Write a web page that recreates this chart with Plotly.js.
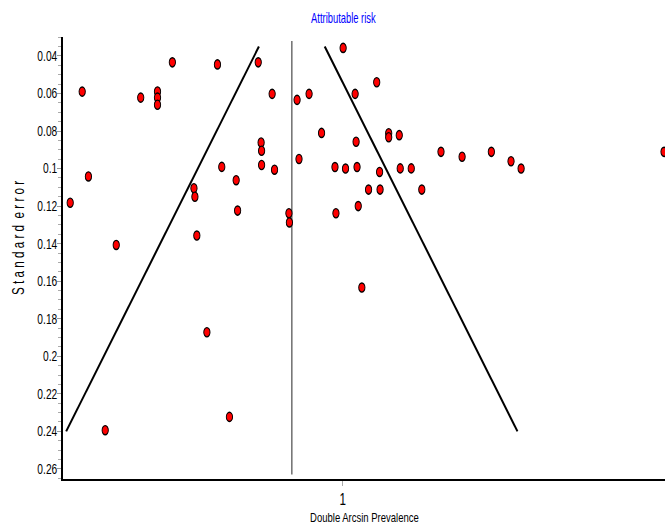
<!DOCTYPE html>
<html>
<head>
<meta charset="utf-8">
<script src="https://cdn.plot.ly/plotly-3.0.1.min.js"></script>
<style>
html,body{margin:0;padding:0;background:#fff;}
#chart{width:665px;height:525px;}
</style>
</head>
<body>
<div id="chart"></div>
<script>
// Study estimates (double arcsine prevalence) and their standard errors
const studyX = [0.457,0.470,0.432,0.528,0.579,0.614,0.614,0.614,0.645,0.739,
                0.690,0.692,0.696,0.748,0.778,0.781,0.717,0.764,0.505,0.824,
                0.853,0.830,0.831,0.831,0.858,0.888,0.889,0.905,0.909,0.930,
                0.956,1.001,1.026,1.028,0.984,1.006,1.030,0.986,1.0325,1.040,
                1.054,1.077,1.078,1.071,1.096,1.096,1.118,1.120,1.143,1.165,
                1.205,1.249,1.310,1.351,1.372,1.670];
const studySE = [0.0590,0.1042,0.1182,0.1407,0.0622,0.0589,0.0622,0.0660,0.0434,0.0445,
                 0.1105,0.1150,0.1357,0.0991,0.1062,0.1224,0.1872,0.2323,0.2394,0.0434,
                 0.0602,0.0861,0.0905,0.0981,0.1006,0.1238,0.1287,0.0634,0.0949,0.0602,
                 0.0810,0.0357,0.0602,0.0857,0.0992,0.1000,0.0992,0.1238,0.1200,0.1634,
                 0.1112,0.1018,0.1112,0.0540,0.0812,0.0833,0.0822,0.0999,0.0999,0.1112,
                 0.0911,0.0937,0.0911,0.0961,0.1000,0.0911];

// Pooled estimate and funnel limits
const pooled = 0.894;
const pooledSE = [0.032, 0.263];
const funnelSE = [0.035, 0.24];
const zCrit = 1.96;

// Axis ticks
const yTickVals = [0.04,0.06,0.08,0.1,0.12,0.14,0.16,0.18,0.2,0.22,0.24,0.26];
const yTickText = ["0.04","0.06","0.08","0.1","0.12","0.14","0.16","0.18","0.2","0.22","0.24","0.26"];
const xTickVals = [1];
const xTickText = ["1"];

const titleText = "Attributable risk";
const xTitleText = "Double Arcsin Prevalence";
const yTitleText = "S t a n d a r d  e r r o r";

const FONT = '"Liberation Sans", Arial, sans-serif';

const leftX = funnelSE.map(s => pooled - zCrit * s);
const rightX = funnelSE.map(s => pooled + zCrit * s);

const traces = [
  {x: leftX, y: funnelSE, mode: 'lines', line: {color: '#000', width: 2}, hoverinfo: 'skip'},
  {x: rightX, y: funnelSE, mode: 'lines', line: {color: '#000', width: 2}, hoverinfo: 'skip'},
  {x: [pooled, pooled], y: pooledSE, mode: 'lines', line: {color: '#777', width: 1.6}, hoverinfo: 'skip'},
  {x: studyX, y: studySE, mode: 'markers', type: 'scatter',
   marker: {symbol: 'circle', size: 8, color: '#ff0000', line: {color: '#000', width: 1.2}}}
];

const layout = {
  width: 665, height: 525,
  margin: {l: 63, r: 0, t: 37, b: 46},
  paper_bgcolor: '#fff', plot_bgcolor: '#fff',
  showlegend: false,
  font: {family: FONT, size: 13, color: '#000'},
  xaxis: {
    range: [0.417, 1.672], showgrid: false, zeroline: false,
    showline: true, linecolor: '#000', linewidth: 2,
    tickmode: 'array', tickvals: xTickVals, ticktext: xTickText,
    ticks: 'outside', ticklen: 5, tickcolor: '#aaa', tickwidth: 1,
    tickfont: {family: FONT, size: 16, color: '#000'}
  },
  yaxis: {
    range: [0.2654, 0.0299], showgrid: false, zeroline: false,
    showline: true, linecolor: '#000', linewidth: 2,
    tickmode: 'array', tickvals: yTickVals, ticktext: yTickText,
    ticks: 'outside', ticklen: 4, tickcolor: '#999', tickwidth: 1,
    minor: {tick0: 0, dtick: 0.005, ticks: 'outside', ticklen: 3, tickcolor: '#aaa', tickwidth: 1, showgrid: false},
    tickfont: {family: FONT, size: 14, color: '#000'}
  },
  annotations: [
    {text: titleText, xref: 'paper', yref: 'paper', x: 0.466, y: 1.044,
     xanchor: 'center', yanchor: 'middle', showarrow: false,
     font: {family: FONT, size: 14, color: '#0000ff'}},
    {text: xTitleText, xref: 'paper', yref: 'paper', x: 0.5, y: -0.088,
     xanchor: 'center', yanchor: 'middle', showarrow: false,
     font: {family: FONT, size: 13, color: '#000'}},
    {text: yTitleText, xref: 'paper', yref: 'paper', x: -0.0745, y: 0.545,
     xanchor: 'center', yanchor: 'middle', showarrow: false, textangle: -90,
     font: {family: FONT, size: 16, color: '#000'}}
  ]
};

function squeeze(el, s, dx) {
  const bb = el.getBBox();
  const anchor = el.getAttribute('text-anchor') || 'start';
  let ax = bb.x;
  if (anchor === 'middle') ax = bb.x + bb.width / 2;
  else if (anchor === 'end') ax = bb.x + bb.width;
  const t = el.getAttribute('transform') || '';
  el.setAttribute('transform', t + ' translate(' + (ax + (dx || 0)) + ',0) scale(' + s + ',1) translate(' + (-ax) + ',0)');
}

Plotly.newPlot('chart', traces, layout, {staticPlot: true, displayModeBar: false}).then(function(gd){
  gd.querySelectorAll('.scatterlayer path.point').forEach(function(p){
    const t = p.getAttribute('transform') || '';
    p.setAttribute('transform', t + ' scale(0.78,1.15)');
  });
  gd.querySelectorAll('.ytick text').forEach(function(el){ squeeze(el, 0.73, 3); });
  gd.querySelectorAll('.xtick text').forEach(function(el){ squeeze(el, 0.73, 0); });
  const ann = gd.querySelectorAll('.annotation-text');
  if (ann[0]) squeeze(ann[0], 0.67, 0);
  if (ann[1]) squeeze(ann[1], 0.73, 0);
  if (ann[2]) squeeze(ann[2], 0.73, 0);
});
</script>
</body>
</html>
